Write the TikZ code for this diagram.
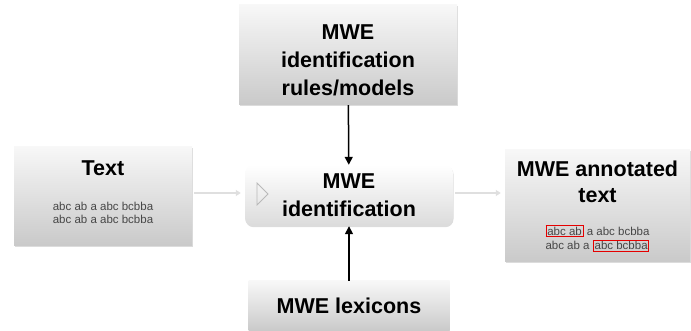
\documentclass[tikz,border=0pt]{standalone}
\usepackage{fontspec}
\setmainfont{Liberation Sans}
\usetikzlibrary{arrows.meta,shadows}

\newcommand\mwemark[1]{\textcolor{red!90!black}{\fbox{\textcolor{black!72}{#1}}}}

\begin{document}
\begin{tikzpicture}[
  x = 1pt, y = -1pt,
  box/.style = {shade, top color = gray!6, bottom color = gray!42,
                drop shadow = {shadow xshift = .5pt, shadow yshift = -1.2pt,
                               fill = black!30, opacity = .45},
                align = center, font = \fontsize{21.5}{28}\selectfont\bfseries},
  hub/.style = {box, rounded corners = 8pt, top color = white, bottom color = gray!28},
  sample/.style = {align = center, text = black!72, font = \fontsize{11.5}{12.5}\selectfont},
  title/.style = {align = center, font = \fontsize{21.5}{26}\selectfont\bfseries},
  flow/.style = {-{Triangle[length = 8pt, width = 8pt]}, line width = 1.5pt},
  feed/.style = {-{Triangle[length = 5pt, width = 6pt]}, line width = 1.2pt, draw = gray!25,
                 shorten <= 2pt, shorten >= 4pt},
  ]
  \useasboundingbox (0,0) rectangle (691,331);

  % boxes
  \node[box, minimum width = 218pt, minimum height = 100pt] (rules) at (348,55) {};
  \node[hub, minimum width = 208pt, minimum height = 61pt] (ident) at (349,195.5)
    {MWE\\identification};
  \node[box, minimum width = 201pt, minimum height = 50pt] (lexicons) at (349,306)
    {MWE lexicons};
  \node[box, minimum width = 178pt, minimum height = 99pt] (text) at (103,196) {};
  \node[box, minimum width = 185pt, minimum height = 112pt] (annot) at (597.5,206) {};

  % play mark
  \draw[gray!55, line width = .8pt] (257,183) -- (268,194) -- (257,205) -- cycle;

  % box contents
  \node[title, font = \fontsize{21.5}{28}\selectfont\bfseries] (rules title) at (348,60)
    {MWE\\identification\\rules/models};
  \node[title] (text title) at (103,168) {Text};
  \node[sample] (text sample) at (103,213)
    {abc ab a abc bcbba\\abc ab a abc bcbba};
  \node[title] (annot title) at (597.5,182) {MWE annotated\\text};
  \setlength\fboxsep{.8pt}\setlength\fboxrule{1pt}
  \node[sample, font = \fontsize{11.5}{14.5}\selectfont] (annot sample) at (597.5,238.5)
    {\mwemark{abc ab} a abc bcbba\\abc ab a \mwemark{abc bcbba}};

  % connectors
  \draw[flow] (rules) -- (ident);
  \draw[flow] (lexicons) -- (ident);
  \draw[feed] (text.east |- 0,193) -- (ident.west |- 0,193);
  \draw[feed] (ident.east |- 0,193) -- (annot.west |- 0,193);
\end{tikzpicture}
\end{document}
